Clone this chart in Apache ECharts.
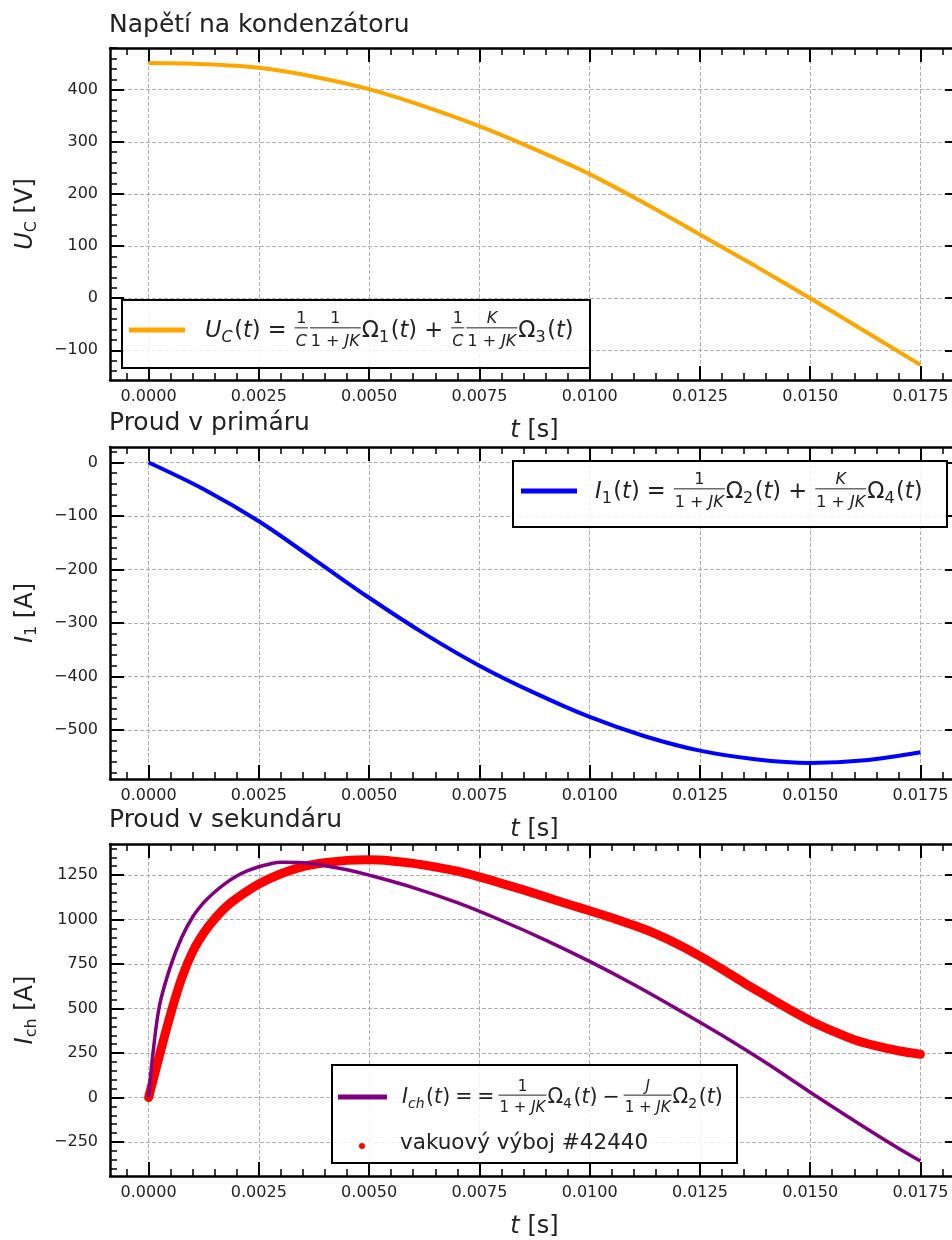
<!DOCTYPE html>
<html>
<head>
<meta charset="utf-8" />
<title>Napětí na kondenzátoru, proud v primáru a sekundáru</title>
<style>
  html, body { margin: 0; padding: 0; overflow: hidden; background: #fff; }
  #chart { width: 960px; height: 1240px; }
</style>
</head>
<body>
<div id="chart"></div>
<script src="https://cdn.jsdelivr.net/npm/echarts@6/dist/echarts.min.js"></script>
<script>
// --- data ---
var tUc = [0, 0.00125, 0.0025, 0.00375, 0.005, 0.00625, 0.0075, 0.00875, 0.01, 0.01125, 0.0125, 0.01375, 0.015, 0.01625, 0.0175];
var uC  = [451, 449, 442, 425, 401, 368, 330, 286, 238, 182, 122, 62, 0, -64, -128];

var tI1 = [0, 0.00125, 0.0025, 0.00375, 0.005, 0.00625, 0.0075, 0.00875, 0.01, 0.01125, 0.0125, 0.01375, 0.015, 0.01625, 0.0175];
var i1  = [0, -50, -110, -181, -253, -320, -380, -431, -476, -512, -539, -555, -562, -557, -542];

var tIch = [0, 0.0001, 0.00025, 0.0005, 0.00075, 0.001, 0.00125, 0.0015, 0.00175, 0.002, 0.00225, 0.0025, 0.00275, 0.003,
            0.0035, 0.004, 0.0045, 0.005, 0.006, 0.007, 0.008, 0.009, 0.01, 0.011, 0.012, 0.013, 0.014, 0.015, 0.016, 0.017, 0.0175];
var iCh  = [0, 250, 520, 740, 900, 1015, 1095, 1155, 1205, 1245, 1275, 1297, 1313, 1322,
            1320, 1303, 1280, 1250, 1180, 1095, 995, 885, 765, 635, 495, 350, 195, 30, -130, -285, -357];

// vakuový výboj #42440 (measured)
var tShot = [0, 0.00025, 0.0005, 0.00075, 0.001, 0.00125, 0.0015, 0.00175, 0.002, 0.0025, 0.003, 0.0035, 0.004, 0.0045, 0.005,
             0.0055, 0.006, 0.0065, 0.007, 0.0075, 0.008, 0.0085, 0.009, 0.0095, 0.01, 0.0105, 0.011, 0.0115, 0.012, 0.0125,
             0.013, 0.0135, 0.014, 0.0145, 0.015, 0.0155, 0.016, 0.0165, 0.017, 0.0175];
var iShot = [0, 240, 470, 670, 820, 925, 1005, 1070, 1120, 1200, 1258, 1298, 1320, 1333, 1336,
             1330, 1316, 1296, 1272, 1240, 1204, 1167, 1128, 1088, 1050, 1010, 968, 920, 862, 795,
             722, 645, 572, 500, 432, 375, 325, 290, 263, 243];

// tick labels
var xTicks   = [0, 0.0025, 0.005, 0.0075, 0.01, 0.0125, 0.015, 0.0175];
var ucTicks  = [-100, 0, 100, 200, 300, 400];
var i1Ticks  = [-500, -400, -300, -200, -100, 0];
var ichTicks = [-250, 0, 250, 500, 750, 1000, 1250];

var FONT = 'DejaVu Sans';
var INK = '#222';
var X_MIN = -0.000875, X_MAX = 0.018375;

function steps(lo, hi, step) {
  var out = [];
  for (var k = Math.ceil(lo / step); k * step <= hi; k++) out.push(+(k * step).toFixed(6));
  return out;
}
function pairs(xs, ys) {
  return xs.map(function (x, i) { return [x, ys[i]]; });
}

var panels = [
  { title: 'Napětí na kondenzátoru', titleTop: 13, top: 48, yMin: -157, yMax: 480, major: ucTicks, minor: 20,
    yName: '{i|U}{s|C} [V]' },
  { title: 'Proud v primáru', titleTop: 411, top: 447, yMin: -592, yMax: 29, major: i1Ticks, minor: 20,
    yName: '{i|I}{s|1} [A]' },
  { title: 'Proud v sekundáru', titleTop: 808, top: 844, yMin: -441, yMax: 1425, major: ichTicks, minor: 50,
    yName: '{i|I}{s|ch} [A]' }
];

function axis(gi, pos, lo, hi, ticks, len, line) {
  return {
    type: 'value', gridIndex: gi, position: pos, min: lo, max: hi,
    axisLine: { show: line, onZero: false, lineStyle: { color: '#000', width: 2.5 } },
    axisTick: { show: true, inside: true, length: len, customValues: ticks,
                lineStyle: { color: '#000', width: len > 10 ? 2 : 1.5 } },
    axisLabel: { show: false },
    splitLine: { show: false },
    splitArea: { show: false }
  };
}

var grids = [], xAxes = [], yAxes = [], titles = [];
var xMinor = steps(X_MIN, X_MAX, 0.0005);

panels.forEach(function (p, gi) {
  grids.push({ left: 110, right: 1, top: p.top, height: 332 });
  titles.push({
    text: p.title, left: 109, top: p.titleTop, padding: 0,
    textStyle: { fontFamily: FONT, fontSize: 25, fontWeight: 'normal', color: INK }
  });

  var xb = axis(gi, 'bottom', X_MIN, X_MAX, xTicks, 14, true);
  xb.axisLabel = { show: true, customValues: xTicks, margin: 9, fontFamily: FONT, fontSize: 16, color: INK,
                   formatter: function (v) { return v.toFixed(4); } };
  xb.splitLine = { show: true, lineStyle: { color: '#b0b0b0', width: 1, type: [4, 2] } };
  xb.name = '{i|t} [s]';
  xb.nameLocation = 'middle';
  xb.nameGap = 39;
  xb.nameTextStyle = { fontFamily: FONT, fontSize: 24, color: INK,
                       rich: { i: { fontFamily: FONT, fontSize: 24, fontStyle: 'italic', color: INK } } };
  xAxes.push(xb);
  xAxes.push(axis(gi, 'bottom', X_MIN, X_MAX, xMinor, 7, false));
  xAxes.push(axis(gi, 'top', X_MIN, X_MAX, xTicks, 14, true));
  xAxes.push(axis(gi, 'top', X_MIN, X_MAX, xMinor, 7, false));

  var yMinor = steps(p.yMin, p.yMax, p.minor);
  var yl = axis(gi, 'left', p.yMin, p.yMax, p.major, 14, true);
  yl.axisLabel = { show: true, customValues: p.major, margin: 12, fontFamily: FONT, fontSize: 16, color: INK,
                   formatter: function (v) { return String(v).replace('-', '\u2212'); } };
  yl.splitLine = { show: true, lineStyle: { color: '#b0b0b0', width: 1, type: [4, 2] } };
  yl.name = p.yName;
  yl.nameLocation = 'middle';
  yl.nameGap = 70;
  yl.nameTextStyle = { fontFamily: FONT, fontSize: 24, color: INK,
                       rich: { i: { fontFamily: FONT, fontSize: 24, fontStyle: 'italic', color: INK },
                               s: { fontFamily: FONT, fontSize: 16, color: INK, padding: [12, 0, 0, 0] } } };
  yAxes.push(yl);
  yAxes.push(axis(gi, 'left', p.yMin, p.yMax, yMinor, 7, false));
  yAxes.push(axis(gi, 'right', p.yMin, p.yMax, p.major, 14, true));
  yAxes.push(axis(gi, 'right', p.yMin, p.yMax, yMinor, 7, false));
});

// --- legends with math text, laid out by hand ---
var ctx = document.createElement('canvas').getContext('2d');
function R(s) { return { s: s }; }
function I(s) { return { s: s, i: true }; }
function S(s, it) { return { s: s, i: !!it, sub: true }; }
function G(px) { return { gap: px }; }
function F(num, den) { return { frac: true, num: num, den: den }; }

function layout(items, x0, yc, size, out) {
  var x = x0;
  items.forEach(function (it) {
    if (it.gap) {
      x += it.gap;
    } else if (it.frac) {
      var fs = Math.round(size * 0.72);
      var nw = layout(it.num, 0, 0, fs, null), dw = layout(it.den, 0, 0, fs, null);
      var w = Math.max(nw, dw) + 2;
      x += 1;
      if (out) {
        layout(it.num, x + (w - nw) / 2, yc - size * 0.52, fs, out);
        layout(it.den, x + (w - dw) / 2, yc + size * 0.47, fs, out);
        out.push({ type: 'line', z: 60, shape: { x1: x, y1: yc - size * 0.14, x2: x + w, y2: yc - size * 0.14 },
                   style: { stroke: INK, lineWidth: 1 } });
      }
      x += w + 1;
    } else {
      var fsz = it.sub ? Math.round(size * 0.7) : size;
      var style = it.i ? 'italic' : 'normal';
      if (out) {
        out.push({ type: 'text', z: 60, x: x, y: yc + (it.sub ? size * 0.3 : 0),
                   style: { text: it.s, fontFamily: FONT, fontSize: fsz, fontStyle: style, fill: INK,
                            align: 'left', verticalAlign: 'middle' } });
      }
      ctx.font = style + ' ' + fsz + 'px "' + FONT + '"';
      x += ctx.measureText(it.s).width + (it.sub ? 1.5 : 0);
    }
  });
  return x;
}

var JK = [R('1 + '), I('JK')];
var mathUc = [I('U'), S('C', true), R('('), I('t'), R(') = '), F([R('1')], [I('C')]), F([R('1')], JK),
              R('\u03a9'), S('1'), R('('), I('t'), R(') + '), F([R('1')], [I('C')]), F([I('K')], JK),
              R('\u03a9'), S('3'), R('('), I('t'), R(')')];
var mathI1 = [I('I'), S('1'), R('('), I('t'), R(') = '), F([R('1')], JK), R('\u03a9'), S('2'), R('('), I('t'),
              R(') + '), F([I('K')], JK), R('\u03a9'), S('4'), R('('), I('t'), R(')')];
var mathIch = [I('I'), S('ch', true), R('('), I('t'), R(')'), G(5), R('='), G(5), R('='), G(3), F([R('1')], JK),
               R('\u03a9'), S('4'), R('('), I('t'), R(')'), G(5), R('\u2212'), G(3), F([I('J')], JK), R('\u03a9'), S('2'),
               R('('), I('t'), R(')')];

var graphics = [];
function box(x, y, w, h) {
  graphics.push({ type: 'rect', z: 50, shape: { x: x, y: y, width: w, height: h },
                  style: { fill: 'rgba(255,255,255,0.85)', stroke: '#000', lineWidth: 2 } });
}
function sample(x1, x2, y, color, width) {
  graphics.push({ type: 'line', z: 60, shape: { x1: x1, y1: y, x2: x2, y2: y },
                  style: { stroke: color, lineWidth: width } });
}

box(122, 300, 468, 68);
sample(129, 185, 330, '#FFA500', 5);
layout(mathUc, 205, 331, 22.5, graphics);

box(513, 461, 434, 66);
sample(521, 577, 491, '#0000FF', 5);
layout(mathI1, 595, 492, 22.5, graphics);

box(332, 1065, 405, 98);
sample(338, 387, 1097, '#800080', 5);
layout(mathIch, 402, 1098, 20.5, graphics);
graphics.push({ type: 'circle', z: 60, shape: { cx: 362, cy: 1146, r: 3 }, style: { fill: '#FF0000' } });
layout([R('vakuový výboj #42440')], 400, 1143, 21.5, graphics);

var chart = echarts.init(document.getElementById('chart'));
chart.setOption({
  animation: false,
  backgroundColor: '#fff',
  title: titles,
  grid: grids,
  xAxis: xAxes,
  yAxis: yAxes,
  graphic: graphics,
  series: [
    { name: 'U_C', type: 'line', xAxisIndex: 0, yAxisIndex: 0, data: pairs(tUc, uC),
      showSymbol: false, smooth: 0.35,
      lineStyle: { color: '#FFA500', width: 4 }, itemStyle: { color: '#FFA500' } },
    { name: 'I_1', type: 'line', xAxisIndex: 4, yAxisIndex: 4, data: pairs(tI1, i1),
      showSymbol: false, smooth: 0.35,
      lineStyle: { color: '#0000FF', width: 4 }, itemStyle: { color: '#0000FF' } },
    { name: 'vakuový výboj #42440', type: 'line', xAxisIndex: 8, yAxisIndex: 8, data: pairs(tShot, iShot),
      showSymbol: false, smooth: 0.35,
      lineStyle: { color: '#FF0000', width: 9, cap: 'round', join: 'round' },
      itemStyle: { color: '#FF0000' }, z: 2 },
    { name: 'I_ch', type: 'line', xAxisIndex: 8, yAxisIndex: 8, data: pairs(tIch, iCh),
      showSymbol: false, smooth: 0.35,
      lineStyle: { color: '#800080', width: 3.5 }, itemStyle: { color: '#800080' }, z: 3 }
  ]
});
</script>
</body>
</html>
